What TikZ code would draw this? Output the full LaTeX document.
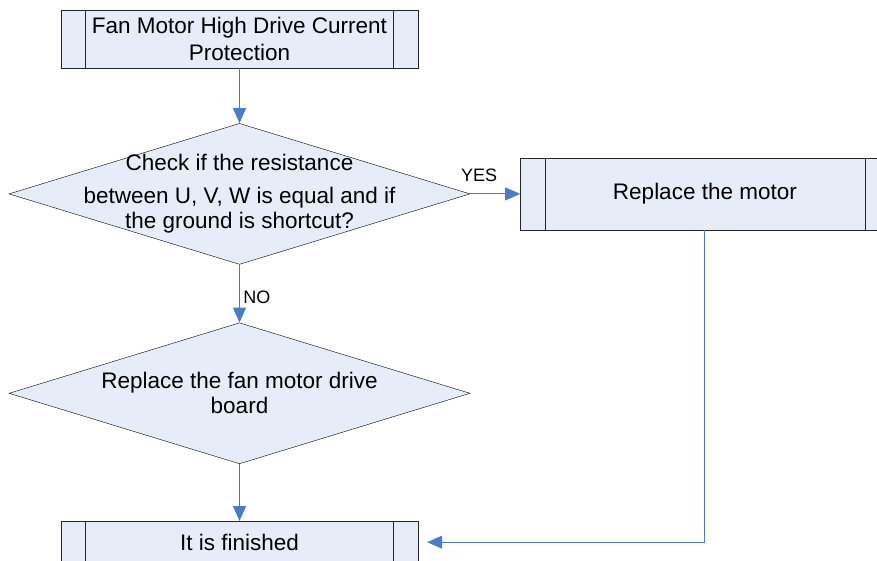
\documentclass[tikz,border=0pt]{standalone}
\usepackage{fontspec}
\setmainfont{Liberation Sans}
\usepackage{xcolor}
\usetikzlibrary{arrows.meta,positioning,shapes.geometric}
\definecolor{boxfill}{HTML}{E6EDF8}
\definecolor{flowblue}{HTML}{4A7BC4}
\tikzset{
  procbox/.style={
    draw=black!85,
    fill=boxfill,
    align=center,
    inner sep=0pt,
    font=\fontsize{22.5}{27}\selectfont,
    path picture={
      \draw[black!85] ([xshift=24.5pt]path picture bounding box.north west) -- ([xshift=24.5pt]path picture bounding box.south west);
      \draw[black!85] ([xshift=-24.5pt]path picture bounding box.north east) -- ([xshift=-24.5pt]path picture bounding box.south east);
    }
  },
  decision/.style={
    diamond,
    draw=black,
    fill=boxfill,
    inner sep=0pt,
    minimum width=461pt,
    minimum height=141pt
  },
  difftext/.style={align=center, font=\fontsize{22.5}{25}\selectfont},
  flow/.style={-{Triangle[length=15pt,width=13pt]}, draw=flowblue, line width=0.9pt},
  flowlabel/.style={font=\fontsize{18}{21}\selectfont}
}

\begin{document}
\begin{tikzpicture}[
  x=1pt, y=1pt,
  node distance=57pt and 50pt
]
\clip (0,0) rectangle (877,-561);
\node[procbox, minimum width=357pt, minimum height=58pt] (start) at (239.5,-39) {Fan Motor High Drive Current\\Protection};
\node[decision, below=55pt of start, label={[name=checktext, difftext]center:{Check if the resistance\\[8pt]between U, V, W is equal and if\\the ground is shortcut?}}] (check) {};
\node[decision, below=58pt of check, label={[name=fixtext, difftext]center:{Replace the fan motor drive\\board}}] (fix) {};
\node[procbox, minimum width=357pt, minimum height=42pt, below=of fix] (finish) {It is finished};
\node[procbox, minimum width=369pt, minimum height=72pt, right=of check] (motor) {Replace the motor};

\draw[flow] (start) -- (check);
\draw[flow] (check) -- node[flowlabel, above=8pt, pos=0.18] (yeslabel) {YES} (motor);
\draw[flow] (check) -- node[flowlabel, right, pos=0.57] (nolabel) {NO} (fix);
\draw[flow] (fix) -- (finish);
\draw[flow, shorten >=9pt] (motor) |- (finish);
\end{tikzpicture}
\end{document}
